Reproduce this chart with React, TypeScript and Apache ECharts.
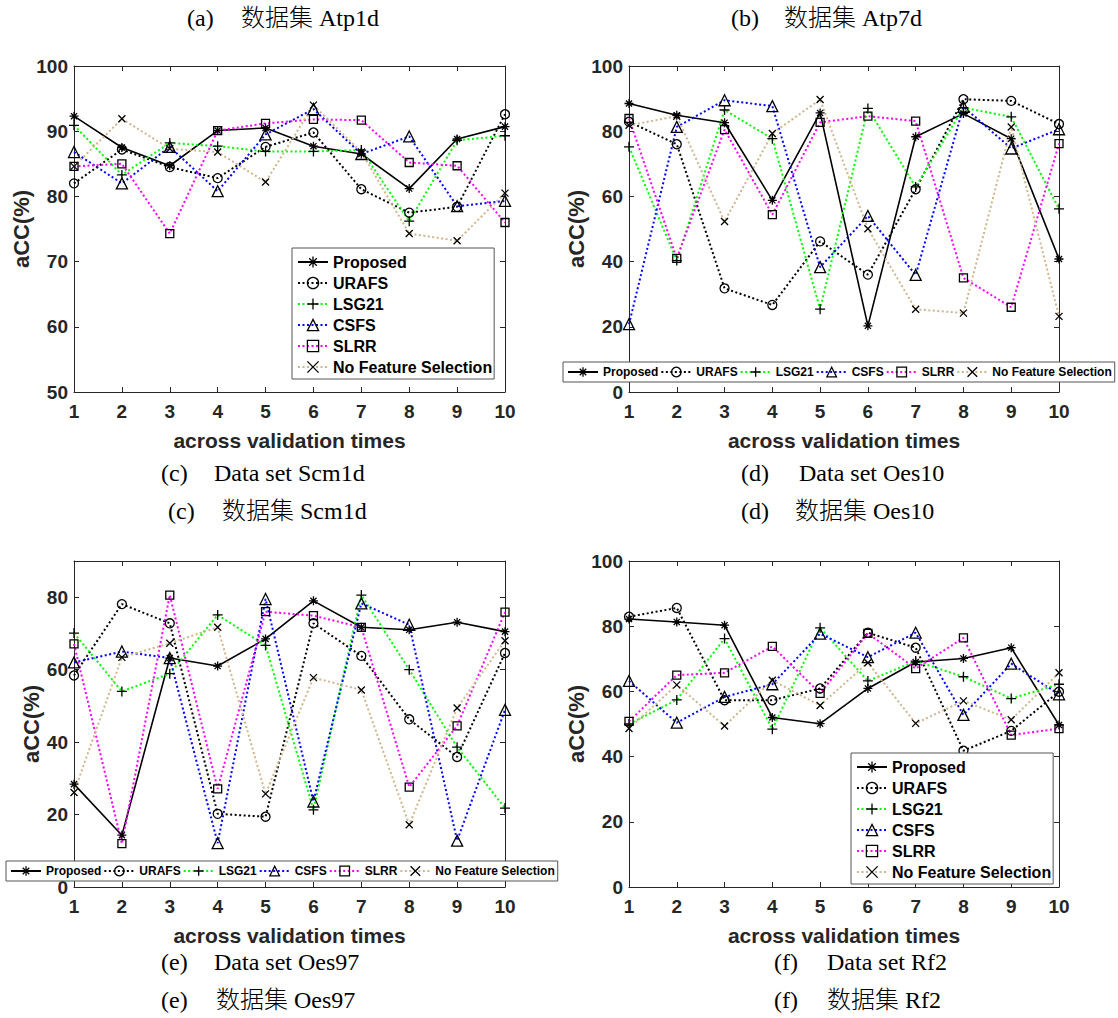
import React, { useEffect, useRef } from 'react';
import * as echarts from 'echarts';

// ---------- data ----------
const validationTimes = ['1', '2', '3', '4', '5', '6', '7', '8', '9', '10'];
const methodNames = ['Proposed', 'URAFS', 'LSG21', 'CSFS', 'SLRR', 'No Feature Selection'];

// (c) Data set Scm1d
const scm1dProposed = [92.3, 87.5, 84.7, 90.1, 90.5, 87.7, 86.5, 81.2, 88.8, 90.7];
const scm1dURAFS = [82.0, 87.2, 84.5, 82.8, 87.6, 89.8, 81.1, 77.5, 78.4, 92.6];
const scm1dLSG21 = [90.9, 83.3, 88.2, 87.7, 86.9, 86.9, 87.1, 76.2, 88.6, 89.3];
const scm1dCSFS = [86.8, 82.0, 87.6, 80.8, 89.5, 93.4, 86.5, 89.2, 78.5, 79.3];
const scm1dSLRR = [84.6, 85.0, 74.3, 90.1, 91.2, 91.8, 91.7, 85.2, 84.7, 76.0];
const scm1dNFS = [84.6, 91.9, 87.3, 86.8, 82.2, 94.0, 86.8, 74.3, 73.2, 80.5];

// (d) Data set Oes10
const oes10Proposed = [88.5, 84.9, 82.6, 58.8, 85.6, 20.3, 78.3, 85.4, 77.7, 40.8];
const oes10URAFS = [82.9, 76.0, 31.8, 26.7, 46.2, 36.0, 62.2, 89.8, 89.3, 82.2];
const oes10LSG21 = [75.2, 40.3, 86.5, 77.7, 25.4, 87.0, 62.9, 87.2, 84.4, 56.2];
const oes10CSFS = [20.8, 81.3, 89.5, 87.7, 38.3, 54.0, 35.9, 87.5, 74.7, 80.6];
const oes10SLRR = [83.9, 41.0, 80.5, 54.4, 82.7, 84.6, 83.1, 35.0, 26.0, 76.2];
const oes10NFS = [81.8, 84.6, 52.3, 79.3, 89.7, 50.1, 25.4, 24.2, 81.3, 23.2];

// (e) Data set Oes97
const oes97Proposed = [28.4, 14.3, 63.2, 61.0, 68.5, 79.0, 71.7, 71.0, 73.1, 70.5];
const oes97URAFS = [58.4, 78.1, 72.8, 20.2, 19.4, 72.8, 63.8, 46.3, 35.9, 64.6];
const oes97LSG21 = [70.1, 54.0, 58.9, 75.1, 66.7, 21.3, 80.6, 60.0, 38.6, 21.8];
const oes97CSFS = [62.0, 65.0, 63.2, 12.1, 79.5, 23.6, 78.3, 72.4, 12.8, 48.9];
const oes97SLRR = [67.1, 12.0, 80.6, 27.1, 76.0, 74.9, 71.7, 27.6, 44.5, 75.9];
const oes97NFS = [26.1, 63.4, 67.3, 71.7, 25.7, 57.8, 54.4, 17.2, 49.4, 68.0];

// (f) Data set Rf2
const rf2Proposed = [82.2, 81.3, 80.3, 52.0, 50.1, 60.9, 69.0, 70.1, 73.4, 49.7];
const rf2URAFS = [82.9, 85.6, 57.3, 57.3, 60.9, 78.0, 73.4, 41.8, 47.9, 59.9];
const rf2LSG21 = [50.0, 57.4, 76.2, 48.4, 79.5, 63.2, 69.3, 64.5, 57.8, 62.2];
const rf2CSFS = [63.2, 50.4, 58.3, 62.2, 77.7, 70.5, 78.0, 52.8, 68.5, 59.1];
const rf2SLRR = [50.8, 65.0, 65.7, 73.8, 59.4, 77.8, 67.0, 76.4, 46.6, 48.6];
const rf2NFS = [48.6, 62.0, 49.4, 63.4, 55.7, 68.8, 50.2, 57.1, 51.3, 65.7];

// y-axis scales per panel
const yMins = [50, 0, 0, 0];
const yMaxs = [100, 100, 90, 100];
const yIntervals = [10, 20, 20, 20];

// captions
const topCaptions = [['(a)', '数据集 Atp1d'], ['(b)', '数据集 Atp7d']];
const midCaptionsEn = [['(c)', 'Data set Scm1d'], ['(d)', 'Data set Oes10']];
const midCaptionsZh = [['(c)', '数据集 Scm1d'], ['(d)', '数据集 Oes10']];
const botCaptionsEn = [['(e)', 'Data set Oes97'], ['(f)', 'Data set Rf2']];
const botCaptionsZh = [['(e)', '数据集 Oes97'], ['(f)', '数据集 Rf2']];

const panelData = [
  [scm1dProposed, scm1dURAFS, scm1dLSG21, scm1dCSFS, scm1dSLRR, scm1dNFS],
  [oes10Proposed, oes10URAFS, oes10LSG21, oes10CSFS, oes10SLRR, oes10NFS],
  [oes97Proposed, oes97URAFS, oes97LSG21, oes97CSFS, oes97SLRR, oes97NFS],
  [rf2Proposed, rf2URAFS, rf2LSG21, rf2CSFS, rf2SLRR, rf2NFS],
];

// ---------- styles & layout ----------
const AXIS = '#262626';
const SANS = "'Liberation Sans', Arial, Helvetica, sans-serif";
const SERIF = "'Liberation Serif', 'Times New Roman', 'Noto Sans CJK SC', serif";

const asterisk = 'path://M5,0L5,10M0,5L10,5M1.6,1.6L8.4,8.4M8.4,1.6L1.6,8.4';
const plus = 'path://M5,0L5,10M0,5L10,5';
const cross = 'path://M0,0L10,10M10,0L0,10';
const DOT: number[] = [2, 2.5];

const methodStyles = [
  { color: '#000000', type: 'solid' as any, width: 1.6, symbol: asterisk, size: 9 },
  { color: '#000000', type: DOT as any, width: 2, symbol: 'circle', size: 9 },
  { color: '#00ff00', type: DOT as any, width: 2, symbol: plus, size: 10 },
  { color: '#0000ff', type: DOT as any, width: 2, symbol: 'triangle', size: 11 },
  { color: '#ff00ff', type: DOT as any, width: 2, symbol: 'rect', size: 8 },
  { color: '#d2b48c', type: DOT as any, width: 2, symbol: cross, size: 7 },
];

const grids = [
  { left: 74, top: 66, width: 431, height: 326 },
  { left: 629, top: 66, width: 430, height: 326 },
  { left: 74, top: 561, width: 431, height: 326 },
  { left: 629, top: 561, width: 430, height: 326 },
];
const yNameGaps = [40, 40, 30, 40];

const legendLayouts = [
  { orient: 'vertical', left: 292, top: 248, fontSize: 16, itemHeight: 14, itemGap: 5, padding: [6, 2, 4, 5] },
  { orient: 'horizontal', left: 563, top: 362, fontSize: 12, itemHeight: 12, itemGap: 2, padding: [4, 3, 4, 4] },
  { orient: 'horizontal', left: 6, top: 861, fontSize: 12, itemHeight: 12, itemGap: 2, padding: [4, 3, 4, 4] },
  { orient: 'vertical', left: 851, top: 753, fontSize: 16, itemHeight: 14, itemGap: 5, padding: [6, 2, 4, 5] },
];

const markerStyle = { color: 'transparent', borderColor: '#000000', borderWidth: 1.3 };

function buildOption() {
  const xAxis: any[] = [];
  const yAxis: any[] = [];
  const series: any[] = [];
  const legend: any[] = [];

  grids.forEach((_, p) => {
    const tick = { show: true, inside: true, length: 5, lineStyle: { color: AXIS, width: 1 } };
    const line = { show: true, onZero: false, lineStyle: { color: AXIS, width: 1 } };
    xAxis.push({
      type: 'category', gridIndex: p, data: validationTimes, boundaryGap: false, position: 'bottom',
      axisLine: line, axisTick: { ...tick, interval: 0 },
      axisLabel: { interval: 0, margin: 10, fontSize: 19, fontWeight: 'bold', color: AXIS, fontFamily: SANS },
      splitLine: { show: false },
      name: 'across validation times', nameLocation: 'middle', nameGap: 38,
      nameTextStyle: { fontSize: 21, fontWeight: 'bold', color: AXIS, fontFamily: SANS },
    });
    xAxis.push({
      type: 'category', gridIndex: p, data: validationTimes, boundaryGap: false, position: 'top',
      axisLine: line, axisTick: { ...tick, interval: 0 }, axisLabel: { show: false }, splitLine: { show: false },
    });
    yAxis.push({
      type: 'value', gridIndex: p, min: yMins[p], max: yMaxs[p], interval: yIntervals[p], position: 'left',
      axisLine: line, axisTick: tick,
      axisLabel: { margin: 6, fontSize: 19, fontWeight: 'bold', color: AXIS, fontFamily: SANS, showMaxLabel: yMaxs[p] % yIntervals[p] === 0 },
      splitLine: { show: false },
      name: 'aCC(%)', nameLocation: 'middle', nameGap: yNameGaps[p], nameRotate: 90,
      nameTextStyle: { fontSize: 22, fontWeight: 'bold', color: AXIS, fontFamily: SANS },
    });
    yAxis.push({
      type: 'value', gridIndex: p, min: yMins[p], max: yMaxs[p], interval: yIntervals[p], position: 'right',
      axisLine: line, axisTick: tick, axisLabel: { show: false }, splitLine: { show: false },
    });

    methodNames.forEach((name, m) => {
      const st = methodStyles[m];
      series.push({
        type: 'line', name, xAxisIndex: p * 2, yAxisIndex: p * 2,
        data: panelData[p][m],
        symbol: st.symbol, symbolSize: st.size, showSymbol: true, showAllSymbol: true,
        lineStyle: { color: st.color, width: st.width, type: st.type },
        itemStyle: markerStyle,
        emphasis: { disabled: true }, silent: true,
      });
    });

    const L = legendLayouts[p];
    legend.push({
      orient: L.orient, left: L.left, top: L.top, padding: L.padding,
      itemWidth: 30, itemHeight: L.itemHeight, itemGap: L.itemGap,
      data: methodNames.map((n) => ({ name: n, itemStyle: { ...markerStyle } })),
      selectedMode: false,
      backgroundColor: '#ffffff', borderColor: '#555555', borderWidth: 1, borderRadius: 0,
      itemStyle: { ...markerStyle },
      textStyle: { fontSize: L.fontSize, fontWeight: 'bold', color: '#000', fontFamily: SANS, lineHeight: L.fontSize },
    });
  });

  const cap = (text: string, x: number, y: number) => ({
    type: 'text', left: x, top: y - 12,
    style: { text, fontSize: 24, fontWeight: 300, fontFamily: SERIF, fill: '#000' },
  });

  const graphic: any[] = [
    cap(topCaptions[0][0], 187, 18), cap(topCaptions[0][1], 241, 18),
    cap(topCaptions[1][0], 731, 18), cap(topCaptions[1][1], 784, 18),
    cap(midCaptionsEn[0][0], 161, 473), cap(midCaptionsEn[0][1], 214, 473),
    cap(midCaptionsZh[0][0], 168, 511), cap(midCaptionsZh[0][1], 222, 511),
    cap(midCaptionsEn[1][0], 741, 473), cap(midCaptionsEn[1][1], 799, 473),
    cap(midCaptionsZh[1][0], 741, 511), cap(midCaptionsZh[1][1], 795, 511),
    cap(botCaptionsEn[0][0], 161, 962), cap(botCaptionsEn[0][1], 214, 962),
    cap(botCaptionsZh[0][0], 161, 1000), cap(botCaptionsZh[0][1], 216, 1000),
    cap(botCaptionsEn[1][0], 774, 962), cap(botCaptionsEn[1][1], 827, 962),
    cap(botCaptionsZh[1][0], 774, 1000), cap(botCaptionsZh[1][1], 827, 1000),
  ];

  return {
    animation: false,
    backgroundColor: '#ffffff',
    grid: grids.map((g) => ({ ...g, containLabel: false })),
    xAxis, yAxis, series, legend, graphic,
  };
}

export default function App() {
  const ref = useRef<HTMLDivElement>(null);
  useEffect(() => {
    if (!ref.current) return;
    const chart = echarts.init(ref.current, null, { renderer: 'svg' });
    chart.setOption(buildOption() as any);
    return () => chart.dispose();
  }, []);
  return (
    <div
      ref={ref}
      style={{ position: 'absolute', left: 0, top: 0, width: 1118, height: 1018, background: '#fff' }}
    />
  );
}
